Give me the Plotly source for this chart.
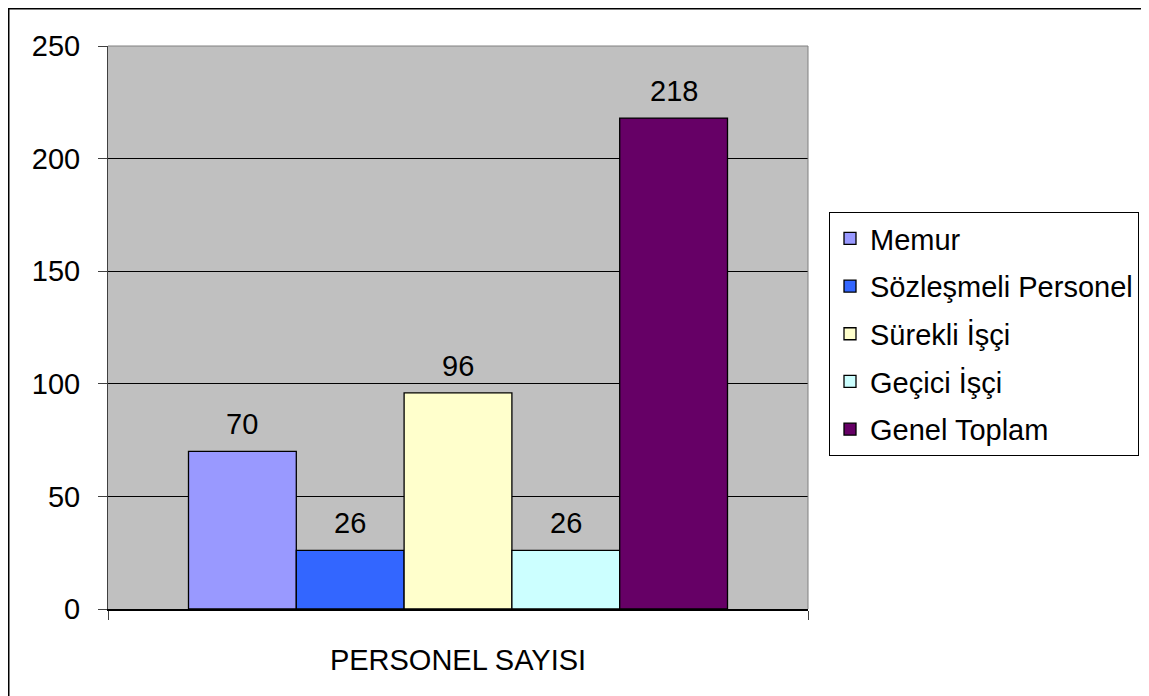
import plotly.graph_objects as go

category = ["PERSONEL SAYISI"]
series_names = ["Memur", "Sözleşmeli Personel", "Sürekli İşçi", "Geçici İşçi", "Genel Toplam"]
series_values = [70, 26, 96, 26, 218]
series_colors = ["#9999FF", "#3366FF", "#FFFFCC", "#CCFFFF", "#660066"]
y_ticks = [0, 50, 100, 150, 200, 250]

FONT = "Liberation Sans, Arial, sans-serif"
FS = 29
BARGAP = 0.23

fig = go.Figure()
for i, (name, val, col) in enumerate(zip(series_names, series_values, series_colors)):
    fig.add_trace(go.Bar(
        x=category, y=[val], name=name,
        marker=dict(color=col, line=dict(color="black", width=1.3)),
        legendgroup=f"g{i}",
    ))

# value labels placed above each bar of the group
n = len(series_values)
bw = (1 - BARGAP) / n
annotations = []
for i, val in enumerate(series_values):
    xc = -0.5 * (1 - BARGAP) + bw * (i + 0.5)
    annotations.append(dict(
        x=xc, y=val, xref="x", yref="y", text=str(val), showarrow=False,
        yanchor="middle", yshift=27,
        font=dict(family=FONT, size=FS, color="black"),
    ))

W, H = 1141, 688
L, R, T, B = 100, 800, 38, 601
pw, ph = R - L, B - T

fig.update_layout(
    width=W, height=H,
    margin=dict(l=L, r=W - R, t=T, b=H - B, autoexpand=False),
    paper_bgcolor="white",
    plot_bgcolor="#C0C0C0",
    barmode="group", bargap=BARGAP, bargroupgap=0,
    font=dict(family=FONT, size=FS, color="black"),
    showlegend=True,
    legend=dict(
        x=(821 - L) / pw, y=(B - 204) / ph, xanchor="left", yanchor="top",
        bordercolor="black", borderwidth=1, bgcolor="white",
        font=dict(family=FONT, size=FS, color="black"),
        tracegroupgap=7,
    ),
    xaxis=dict(
        showgrid=False, showline=True, linecolor="black", linewidth=2,
        ticks="outside", tickson="boundaries", ticklen=9, tickcolor="#404040",
        tickfont=dict(family=FONT, size=FS, color="black"),
        ticklabelstandoff=24,
    ),
    yaxis=dict(
        range=[0, 250], tickvals=y_ticks, showgrid=True, gridcolor="black", gridwidth=1,
        showline=True, linecolor="#404040", linewidth=1,
        ticks="outside", ticklen=9, tickcolor="#404040",
        tickfont=dict(family=FONT, size=FS, color="black"),
        ticklabelstandoff=12, zeroline=False,
    ),
    annotations=annotations,
    shapes=[
        dict(type="rect", xref="paper", yref="paper",
             x0=(0.75 - L) / pw, x1=(W + 20 - L) / pw,
             y0=(B - H - 20) / ph, y1=(B - 0.75) / ph,
             line=dict(color="black", width=1.5), fillcolor="rgba(0,0,0,0)", layer="below"),
        dict(type="line", xref="paper", yref="paper", x0=1, x1=1, y0=0, y1=1,
             line=dict(color="#808080", width=1)),
        dict(type="line", xref="paper", yref="paper", x0=0, x1=1, y0=1, y1=1,
             line=dict(color="#808080", width=1)),
    ],
)

fig.write_html("out.html")
